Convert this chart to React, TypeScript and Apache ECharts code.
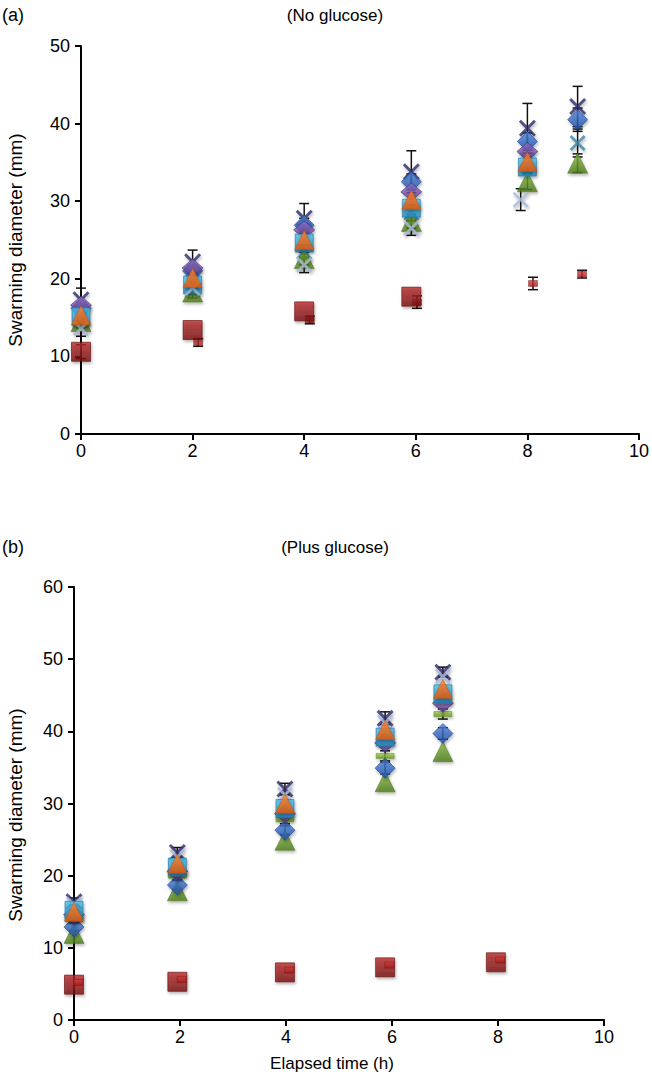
import React, { useEffect, useRef } from "react";
import * as echarts from "echarts";

// ---------- Panel (a): No glucose ----------
const TIME_A = [0, 2, 4, 5.92, 8, 8.9];
const A_NAVY_X = [17.3, 22.2, 27.8, 33.8, 39.4, 42.2];
const A_NAVY_X_ERR = [1.5, 1.5, 1.9, 2.7, 3.2, 2.6];
const A_BLUE_DIAMOND = [16.2, 21.0, 26.9, 32.5, 37.7, 40.5];
const A_BLUE_DIAMOND_ERR = [0.8, 0.8, 0.9, 1.0, 1.1, 1.5];
const A_PURPLE = [16.6, 21.4, 26.3, 31.2, 36.4, null];
const A_ORANGE_TRI = [15.3, 20.1, 25.0, 30.2, 35.1, null];
const A_CYAN_SQ = [15.1, 19.2, 24.6, 29.1, 34.4, null];
const A_GREEN_TRI = [14.5, 18.3, 22.6, 27.4, 32.5, 34.9];
const A_GREEN_TRI_ERR = [0.8, 0.8, 0.8, 0.9, 1.0, 1.2];
const TIME_A_LIGHT = [0, 2, 4, 5.92, 7.88, 8.9];
const A_LIGHT_X = [13.6, 18.8, 21.8, 26.5, 30.2, null];
const A_LIGHT_X_ERR = [1.0, 0.8, 1.0, 0.9, 1.4, null];
const A_TEAL_X = [15.0, 19.5, 23.5, 28.5, 35.3, 37.5];
const A_TEAL_X_ERR = [0.8, 0.8, 0.9, 1.0, 1.6, 1.8];
const A_RED_SQ = [10.6, 13.4, 15.8, 17.7, null, null];
const A_RED_SQ_ERR = [0.9, null, null, null, null, null];
const TIME_A_RED_SMALL = [0.1, 2.1, 4.1, 6.02, 8.1, 8.98];
const A_RED_SMALL = [null, 11.8, 14.7, 17.0, 19.4, 20.6];
const A_RED_SMALL_ERR = [null, 0.5, 0.5, 0.8, 0.8, 0.5];

// ---------- Panel (b): Plus glucose ----------
const TIME_B = [0, 1.95, 3.98, 5.87, 6.96];
const B_NAVY_X = [16.4, 23.2, 32.0, 41.8, 48.2];
const B_NAVY_X_ERR = [0.5, 0.7, 0.8, 0.9, 0.7];
const B_LIGHT_X = [16.0, 22.6, 31.2, 41.2, 47.6];
const B_ORANGE_TRI = [15.0, 21.7, 30.0, 40.2, 45.9];
const B_CYAN_SQ = [15.2, 21.2, 29.3, 39.2, 45.2];
const B_PURPLE = [14.6, 20.6, 28.6, 38.4, 43.9];
const B_GREEN_DASH = [14.0, 20.0, 27.8, 36.6, 42.4];
const B_GREEN_DASH_ERR = [0.5, 0.6, 0.6, 0.7, 0.7];
const B_BLUE_DIAMOND = [12.9, 18.7, 26.3, 34.9, 39.7];
const B_BLUE_DIAMOND_ERR = [0.5, 0.6, 0.6, 0.8, 0.8];
const B_GREEN_TRI = [12.0, 17.9, 24.9, 33.0, 37.2];
const TIME_B_RED = [0, 1.95, 3.98, 5.87, 7.96];
const B_RED_SQ = [4.9, 5.3, 6.6, 7.3, 8.0];
const TIME_B_RED_SMALL = [0.08, 2.03, 4.06, 5.95, 8.04];
const B_RED_SMALL = [5.2, 5.6, 6.9, 7.6, 8.3];

// ---------- Axis ticks ----------
const X_MAX = 10;
const X_INTERVAL = 2;
const A_Y_MAX = 50;
const B_Y_MAX = 60;
const Y_INTERVAL = 10;

const FONT = "'Liberation Sans', Arial, Helvetica, sans-serif";

const pts = (t: number[], v: (number | null)[]) =>
  t.map((x, i) => [x, v[i]]).filter((p) => p[1] != null);

const errPts = (t: number[], v: (number | null)[], e: (number | null)[]) =>
  t
    .map((x, i) =>
      v[i] != null && e[i] != null
        ? [x, (v[i] as number) - (e[i] as number), (v[i] as number) + (e[i] as number)]
        : null
    )
    .filter((p) => p != null);

const grad = (top: string, bottom: string) => ({
  type: "linear",
  x: 0,
  y: 0,
  x2: 0,
  y2: 1,
  colorStops: [
    { offset: 0, color: top },
    { offset: 1, color: bottom },
  ],
});

const X_PATH =
  "path://M0,1.2 L1.2,0 L5,3.8 L8.8,0 L10,1.2 L6.2,5 L10,8.8 L8.8,10 L5,6.2 L1.2,10 L0,8.8 L3.8,5 Z";

const shadow = {
  shadowBlur: 3,
  shadowColor: "rgba(0,0,0,0.35)",
  shadowOffsetX: 1,
  shadowOffsetY: 2,
};

const STYLES: Record<string, any> = {
  navyX: { symbol: X_PATH, symbolSize: 17, itemStyle: { color: "#2a2b6c", ...shadow } },
  lightX: { symbol: X_PATH, symbolSize: 16, itemStyle: { color: "#a9b9d9", ...shadow } },
  tealX: { symbol: X_PATH, symbolSize: 16, itemStyle: { color: "#3f86a6", ...shadow } },
  blueDiamond: {
    symbol: "diamond",
    symbolSize: 20,
    itemStyle: { color: grad("#4f86dc", "#1f4ea3"), borderColor: "#1b418a", borderWidth: 0.8, ...shadow },
  },
  purple: {
    symbol: "diamond",
    symbolSize: [21, 18],
    itemStyle: { color: grad("#9270c8", "#5a3a88"), borderColor: "#4d3276", borderWidth: 0.8, ...shadow },
  },
  cyanSq: {
    symbol: "rect",
    symbolSize: 18,
    itemStyle: { color: grad("#4fc0ea", "#1f8cbe"), borderColor: "#1b76a2", borderWidth: 0.8, ...shadow },
  },
  orangeTri: {
    symbol: "triangle",
    symbolSize: 19,
    itemStyle: { color: grad("#ff8530", "#e45a0a"), borderColor: "#c44e08", borderWidth: 0.6, ...shadow },
  },
  greenTri: {
    symbol: "triangle",
    symbolSize: 20,
    itemStyle: { color: grad("#84bb40", "#4c7a18"), borderColor: "#446c16", borderWidth: 0.6, ...shadow },
  },
  greenDash: {
    symbol: "rect",
    symbolSize: [18, 5],
    itemStyle: { color: grad("#98c846", "#66961e"), borderColor: "#588618", borderWidth: 0.5, ...shadow },
  },
  redSq: {
    symbol: "rect",
    symbolSize: 19,
    itemStyle: { color: grad("#b82a2a", "#780e0e"), borderColor: "#600a0a", borderWidth: 0.8, ...shadow },
  },
  redSmall: {
    symbol: "rect",
    symbolSize: [9, 6],
    itemStyle: { color: grad("#d83a3a", "#a01818"), borderColor: "#781212", borderWidth: 0.5 },
  },
};

const scatter = (name: string, styleKey: string, data: any[], axis: number, z: number) => ({
  type: "scatter",
  name,
  xAxisIndex: axis,
  yAxisIndex: axis,
  data,
  z,
  ...STYLES[styleKey],
});

const errorSeries = (data: any[], axis: number, z: number) => ({
  type: "custom",
  xAxisIndex: axis,
  yAxisIndex: axis,
  coordinateSystem: "cartesian2d",
  z,
  encode: { x: 0, y: [1, 2] },
  data,
  renderItem: (_params: any, api: any) => {
    const x = api.value(0);
    const p1 = api.coord([x, api.value(1)]);
    const p2 = api.coord([x, api.value(2)]);
    const w = 5;
    const st = { stroke: "#111", lineWidth: 1.5 };
    return {
      type: "group",
      children: [
        { type: "line", shape: { x1: p1[0], y1: p1[1], x2: p2[0], y2: p2[1] }, style: st },
        { type: "line", shape: { x1: p1[0] - w, y1: p1[1], x2: p1[0] + w, y2: p1[1] }, style: st },
        { type: "line", shape: { x1: p2[0] - w, y1: p2[1], x2: p2[0] + w, y2: p2[1] }, style: st },
      ],
    };
  },
});

const axisCommon = {
  axisLine: { show: true, onZero: false, lineStyle: { color: "#000", width: 2 } },
  axisTick: { show: true, inside: false, length: 6, lineStyle: { color: "#000", width: 2 } },
  splitLine: { show: false },
  axisLabel: { color: "#000", fontSize: 18, fontFamily: FONT },
};

const text = (t: string, x: number, y: number, align: string, size = 18, extra: any = {}) => ({
  type: "text",
  x,
  y,
  ...extra,
  style: {
    text: t,
    font: `${size}px ${FONT}`,
    fill: "#000",
    textAlign: align,
    textVerticalAlign: "middle",
    align,
    verticalAlign: "middle",
  },
});

export default function App() {
  const ref = useRef<HTMLDivElement>(null);

  useEffect(() => {
    if (!ref.current) return;
    const chart = echarts.init(ref.current, undefined, { renderer: "svg" });
    const option: any = {
      animation: false,
      backgroundColor: "#fff",
      grid: [
        { left: 81, right: 12, top: 46, bottom: 648 },
        { left: 74, right: 48, top: 587, bottom: 62 },
      ],
      xAxis: [0, 1].map((i) => ({
        type: "value",
        gridIndex: i,
        min: 0,
        max: X_MAX,
        interval: X_INTERVAL,
        ...axisCommon,
        axisLabel: { ...axisCommon.axisLabel, margin: 8 },
      })),
      yAxis: [
        {
          type: "value",
          gridIndex: 0,
          min: 0,
          max: A_Y_MAX,
          interval: Y_INTERVAL,
          ...axisCommon,
          axisLabel: { ...axisCommon.axisLabel, margin: 11 },
        },
        {
          type: "value",
          gridIndex: 1,
          min: 0,
          max: B_Y_MAX,
          interval: Y_INTERVAL,
          ...axisCommon,
          axisLabel: { ...axisCommon.axisLabel, margin: 11 },
        },
      ],
      graphic: [
        text("(a)", 2, 15, "left"),
        text("(No glucose)", 335, 15, "center", 17),
        text("(b)", 2, 547, "left"),
        text("(Plus glucose)", 335, 547, "center", 17),
        text("Swarming diameter (mm)", 15, 240, "center", 19, { rotation: Math.PI / 2 }),
        text("Swarming diameter (mm)", 15, 815, "center", 19, { rotation: Math.PI / 2 }),
        text("Elapsed time (h)", 332, 1063, "center", 17),
      ],
      series: [
        // panel (a)
        errorSeries(errPts(TIME_A_LIGHT, A_LIGHT_X, A_LIGHT_X_ERR), 0, 1),
        errorSeries(errPts(TIME_A, A_TEAL_X, A_TEAL_X_ERR), 0, 1),
        errorSeries(errPts(TIME_A, A_GREEN_TRI, A_GREEN_TRI_ERR), 0, 1),
        errorSeries(errPts(TIME_A, A_BLUE_DIAMOND, A_BLUE_DIAMOND_ERR), 0, 1),
        errorSeries(errPts(TIME_A, A_NAVY_X, A_NAVY_X_ERR), 0, 1),
        errorSeries(errPts(TIME_A, A_RED_SQ, A_RED_SQ_ERR), 0, 1),
        errorSeries(errPts(TIME_A_RED_SMALL, A_RED_SMALL, A_RED_SMALL_ERR), 0, 1),
        scatter("Teal X", "tealX", pts(TIME_A, A_TEAL_X), 0, 2),
        scatter("Green triangle", "greenTri", pts(TIME_A, A_GREEN_TRI), 0, 3),
        scatter("Red small", "redSmall", pts(TIME_A_RED_SMALL, A_RED_SMALL), 0, 3),
        scatter("Red square", "redSq", pts(TIME_A, A_RED_SQ), 0, 4),
        scatter("Navy X", "navyX", pts(TIME_A, A_NAVY_X), 0, 4),
        scatter("Blue diamond", "blueDiamond", pts(TIME_A, A_BLUE_DIAMOND), 0, 5),
        scatter("Purple", "purple", pts(TIME_A, A_PURPLE), 0, 6),
        scatter("Cyan square", "cyanSq", pts(TIME_A, A_CYAN_SQ), 0, 7),
        scatter("Light X", "lightX", pts(TIME_A_LIGHT, A_LIGHT_X), 0, 8),
        scatter("Orange triangle", "orangeTri", pts(TIME_A, A_ORANGE_TRI), 0, 9),
        // panel (b)
        errorSeries(errPts(TIME_B, B_NAVY_X, B_NAVY_X_ERR), 1, 1),
        errorSeries(errPts(TIME_B, B_GREEN_DASH, B_GREEN_DASH_ERR), 1, 1),
        errorSeries(errPts(TIME_B, B_BLUE_DIAMOND, B_BLUE_DIAMOND_ERR), 1, 1),
        scatter("Navy X", "navyX", pts(TIME_B, B_NAVY_X), 1, 2),
        scatter("Light X", "lightX", pts(TIME_B, B_LIGHT_X), 1, 3),
        scatter("Green triangle", "greenTri", pts(TIME_B, B_GREEN_TRI), 1, 3),
        scatter("Blue diamond", "blueDiamond", pts(TIME_B, B_BLUE_DIAMOND), 1, 4),
        scatter("Green dash", "greenDash", pts(TIME_B, B_GREEN_DASH), 1, 5),
        scatter("Purple", "purple", pts(TIME_B, B_PURPLE), 1, 5),
        scatter("Cyan square", "cyanSq", pts(TIME_B, B_CYAN_SQ), 1, 6),
        scatter("Orange triangle", "orangeTri", pts(TIME_B, B_ORANGE_TRI), 1, 7),
        scatter("Red square", "redSq", pts(TIME_B_RED, B_RED_SQ), 1, 4),
        scatter("Red small", "redSmall", pts(TIME_B_RED_SMALL, B_RED_SMALL), 1, 5),
      ],
    };
    chart.setOption(option);
    return () => chart.dispose();
  }, []);

  return (
    <div
      ref={ref}
      style={{ position: "absolute", left: 0, top: 0, width: 652, height: 1082, background: "#fff" }}
    />
  );
}
